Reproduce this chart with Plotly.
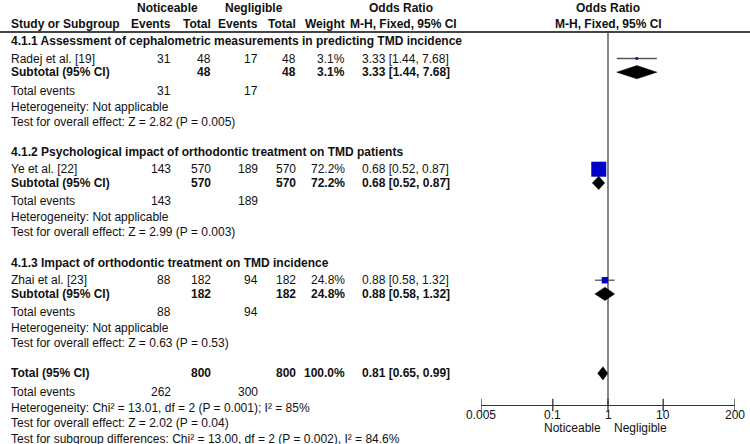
import plotly.graph_objects as go
import math

# ---------------- data ----------------
subgroup_titles = [
    "4.1.1 Assessment of cephalometric measurements in predicting TMD incidence",
    "4.1.2 Psychological impact of orthodontic treatment on TMD patients",
    "4.1.3 Impact of orthodontic treatment on TMD incidence",
]
studies = ["Radej et al. [19]", "Ye et al. [22]", "Zhai et al. [23]"]
noticeable_events = [31, 143, 88]
noticeable_total = [48, 570, 182]
negligible_events = [17, 189, 94]
negligible_total = [48, 570, 182]
weights = [3.1, 72.2, 24.8]
odds_ratio = [3.33, 0.68, 0.88]
ci_low = [1.44, 0.52, 0.58]
ci_high = [7.68, 0.87, 1.32]
subgroup_het = ["Heterogeneity: Not applicable"] * 3
subgroup_effect = [
    "Test for overall effect: Z = 2.82 (P = 0.005)",
    "Test for overall effect: Z = 2.99 (P = 0.003)",
    "Test for overall effect: Z = 0.63 (P = 0.53)",
]
total_label = "Total (95% CI)"
total_noticeable = 800
total_negligible = 800
total_events_noticeable = 262
total_events_negligible = 300
total_weight = 100.0
total_or = 0.81
total_low = 0.65
total_high = 0.99
total_het = "Heterogeneity: Chi² = 13.01, df = 2 (P = 0.001); I² = 85%"
total_effect = "Test for overall effect: Z = 2.02 (P = 0.04)"
subgroup_diff = "Test for subgroup differences: Chi² = 13.00, df = 2 (P = 0.002), I² = 84.6%"
tick_vals = [0.005, 0.1, 1, 10, 200]
tick_text = ["0.005", "0.1", "1", "10", "200"]
favours = ["Noticeable", "Negligible"]

# ---------------- layout constants (pixels) ----------------
W, H = 750, 444
FONT = "Liberation Sans, Arial, sans-serif"
TXT = "#111111"
group_top = [41, 151.7, 262.7]
offs = [0, 17.5, 31.2, 49.5, 65.5, 80.5]
total_rows = [373.3, 391.7, 408.3, 423.3, 438.5]
axis_y = 405
header_line_y = 32
col_label = 11
col_ne, col_nt, col_ge, col_gt, col_w = 171, 211, 258, 296, 345
col_or = 362
plot_x0, plot_x1 = 481, 735

annotations = []


def txt(x, y, s, anchor="left", bold=False, size=12, xref="paper"):
    if bold:
        s = "<b>" + s + "</b>"
    annotations.append(dict(
        x=(x / W) if xref == "paper" else x, xref=xref, y=y, yref="y", text=s,
        showarrow=False, xanchor=anchor, yanchor="middle", borderpad=0,
        borderwidth=0, font=dict(family=FONT, size=size, color=TXT)))


def fmt_ci(o, l, h):
    return f"{o:.2f} [{l:.2f}, {h:.2f}]"


# headers
txt(167.5, 8, "Noticeable", "center", True)
txt(254, 8, "Negligible", "center", True)
txt(401, 8, "Odds Ratio", "center", True)
txt(608, 8, "Odds Ratio", "center", True)
txt(col_label, 24, "Study or Subgroup", "left", True)
txt(col_ne, 24, "Events", "right", True)
txt(col_nt, 24, "Total", "right", True)
txt(col_ge, 24, "Events", "right", True)
txt(col_gt, 24, "Total", "right", True)
txt(col_w, 24, "Weight", "right", True)
txt(403, 24, "M-H, Fixed, 95% CI", "center", True)
txt(608, 24, "M-H, Fixed, 95% CI", "center", True)

fig = go.Figure()

study_y = []
sub_y = []
for i in range(len(studies)):
    g = group_top[i]
    ys = g + offs[1]
    yb = g + offs[2]
    study_y.append(ys)
    sub_y.append(yb)
    txt(col_label, g + offs[0], subgroup_titles[i], "left", True)
    txt(col_label, ys, studies[i])
    txt(col_ne, ys, str(noticeable_events[i]), "right")
    txt(col_nt, ys, str(noticeable_total[i]), "right")
    txt(col_ge, ys, str(negligible_events[i]), "right")
    txt(col_gt, ys, str(negligible_total[i]), "right")
    txt(col_w, ys, f"{weights[i]:.1f}%", "right")
    txt(col_or, ys, fmt_ci(odds_ratio[i], ci_low[i], ci_high[i]))
    txt(col_label, yb, "Subtotal (95% CI)", "left", True)
    txt(col_nt, yb, str(noticeable_total[i]), "right", True)
    txt(col_gt, yb, str(negligible_total[i]), "right", True)
    txt(col_w, yb, f"{weights[i]:.1f}%", "right", True)
    txt(col_or, yb, fmt_ci(odds_ratio[i], ci_low[i], ci_high[i]), "left", True)
    txt(col_label, g + offs[3], "Total events")
    txt(col_ne, g + offs[3], str(noticeable_events[i]), "right")
    txt(col_ge, g + offs[3], str(negligible_events[i]), "right")
    txt(col_label, g + offs[4], subgroup_het[i])
    txt(col_label, g + offs[5], subgroup_effect[i])

# overall block
txt(col_label, total_rows[0], total_label, "left", True)
txt(col_nt, total_rows[0], str(total_noticeable), "right", True)
txt(col_gt, total_rows[0], str(total_negligible), "right", True)
txt(col_w, total_rows[0], f"{total_weight:.1f}%", "right", True)
txt(col_or, total_rows[0], fmt_ci(total_or, total_low, total_high), "left", True)
txt(col_label, total_rows[1], "Total events")
txt(col_ne, total_rows[1], str(total_events_noticeable), "right")
txt(col_ge, total_rows[1], str(total_events_negligible), "right")
txt(col_label, total_rows[2], total_het)
txt(col_label, total_rows[3], total_effect)
txt(col_label, total_rows[4], subgroup_diff)

# axis tick labels (log axis -> annotation x in log10 units) and favours labels
for v, t in zip(tick_vals, tick_text):
    txt(math.log10(v), 414.5, t, "center", xref="x")
txt(601, 427.5, favours[0], "right")
txt(614, 427.5, favours[1], "left")

# CI lines
for i in range(len(studies)):
    fig.add_trace(go.Scatter(
        x=[ci_low[i], ci_high[i]], y=[study_y[i], study_y[i]], mode="lines",
        line=dict(color="#555555", width=1.3), hoverinfo="skip", showlegend=False))

# squares
fig.add_trace(go.Scatter(
    x=odds_ratio, y=study_y, mode="markers",
    marker=dict(symbol="square", color="#0000c8", opacity=1,
                size=[2 + 13 * w / max(weights) for w in weights],
                line=dict(width=0)),
    hoverinfo="skip", showlegend=False))

# diamonds
HALF = 6.6
diam_sets = [(odds_ratio[i], ci_low[i], ci_high[i], sub_y[i]) for i in range(len(studies))]
diam_sets.append((total_or, total_low, total_high, total_rows[0]))
for o, l, h, yc in diam_sets:
    fig.add_trace(go.Scatter(
        x=[l, o, h, o, l], y=[yc, yc - HALF, yc, yc + HALF, yc],
        mode="lines", fill="toself", fillcolor="black",
        line=dict(color="black", width=0.5), hoverinfo="skip", showlegend=False))

# axis tick crosses
fig.add_trace(go.Scatter(
    x=tick_vals, y=[axis_y] * len(tick_vals), mode="markers",
    marker=dict(symbol="line-ns", size=9, line=dict(color="#333333", width=1.3)),
    hoverinfo="skip", showlegend=False))

shapes = [
    dict(type="line", xref="paper", yref="y", x0=0, x1=1,
         y0=header_line_y, y1=header_line_y, line=dict(color="#444444", width=1.8)),
    dict(type="line", xref="x", yref="y", x0=1, x1=1, y0=header_line_y, y1=axis_y,
         line=dict(color="#7a7a7a", width=1.8), layer="below"),
]

fig.update_layout(
    width=W, height=H, margin=dict(l=0, r=0, t=0, b=0, autoexpand=False),
    paper_bgcolor="white", plot_bgcolor="rgba(0,0,0,0)",
    showlegend=False, annotations=annotations, shapes=shapes,
    xaxis=dict(type="log", domain=[plot_x0 / W, plot_x1 / W],
               range=[math.log10(tick_vals[0]), math.log10(tick_vals[-1])],
               anchor="free", position=1 - axis_y / H, automargin=False,
               showline=True, linecolor="#333333", linewidth=1.3,
               showgrid=False, zeroline=False, ticks="", showticklabels=False),
    yaxis=dict(range=[H, 0], domain=[0, 1], visible=False, showgrid=False,
               zeroline=False, fixedrange=True, automargin=False),
)

fig.write_html(
    "out.html",
    config={"displayModeBar": False},
    post_script="document.body.style.margin='0';document.body.style.overflow='hidden';",
)
